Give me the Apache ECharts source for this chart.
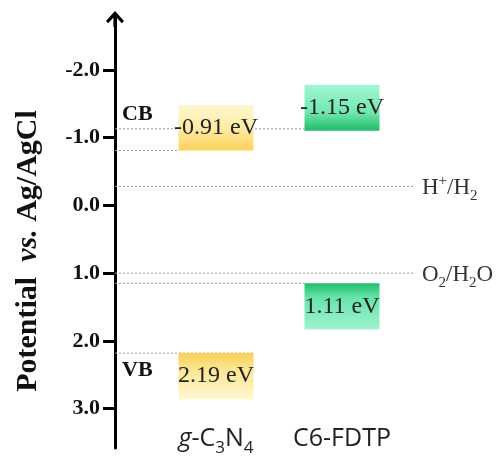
<!DOCTYPE html>
<html><head><meta charset="utf-8">
<script src="https://cdn.jsdelivr.net/npm/echarts@6/dist/echarts.min.js"></script>
<style>html,body{margin:0;padding:0;background:#fff}#c{width:499px;height:457px}</style>
</head><body><div id="c"></div>
<script>
// ---- data ----
const categories = ['g-C3N4', 'C6-FDTP'];
const categoryLabels = ['{i|g}{n|-C}{s|3}{n|N}{s|4}', '{n|C6-FDTP}'];
const cbTop = [-1.48, -1.78];
const cbBottom = [-0.81, -1.10];
const vbTop = [2.18, 1.15];
const vbBottom = [2.86, 1.83];
const cbLabels = ['-0.91 eV', '-1.15 eV'];
const vbLabels = ['2.19 eV', '1.11 eV'];
const guideValues = [-1.13, -0.81, 1.15, 2.18];
const guideTargets = [1, 0, 1, 0];
const guideSides = ['left', 'left', 'left', 'right'];
const redoxValues = [-0.28, 1.00];
const redoxLabels = ['{n|H}{sup|+}{n|/H}{sub|2}', '{n|O}{sub|2}{n|/H}{sub|2}{n|O}'];
const bandNames = ['CB', 'VB'];
const yTicks = [-2, -1, 0, 1, 2, 3];
const yTickLabels = ['-2.0', '-1.0', '0.0', '1.0', '2.0', '3.0'];

// ---- styles ----
const Y_OFFSET = 38;
const BOX_W = 75;
const gradients = {
  cb0: [{offset:0,color:'#fff8cf'},{offset:0.55,color:'#ffe9a0'},{offset:1,color:'#fcd25c'}],
  cb1: [{offset:0,color:'#a2f6d4'},{offset:0.6,color:'#72e7b0'},{offset:1,color:'#1fbb69'}],
  vb0: [{offset:0,color:'#fbcf55'},{offset:0.35,color:'#fde690'},{offset:1,color:'#fff8d0'}],
  vb1: [{offset:0,color:'#1fbd6c'},{offset:0.3,color:'#66e3aa'},{offset:1,color:'#a0f3d0'}]
};
const serif = '"Liberation Serif", "Times New Roman", serif';

const bandData = [], bandKinds = [], bandTexts = [];
categories.forEach((c, i) => {
  bandData.push([i, cbTop[i], cbBottom[i]]); bandKinds.push('cb' + i); bandTexts.push(cbLabels[i]);
  bandData.push([i, vbTop[i], vbBottom[i]]); bandKinds.push('vb' + i); bandTexts.push(vbLabels[i]);
});
const guideData = guideValues.map((v, i) => [guideTargets[i], v]);
const redoxData = redoxValues.map(v => [0, v]);
const bandNameData = [[0, cbTop[0]], [0, vbTop[0]]];

const chart = echarts.init(document.getElementById('c'), null, {renderer: 'canvas'});

function axisX(params) { return params.coordSys.x - Y_OFFSET; }

chart.setOption({
  animation: false,
  backgroundColor: '#fff',
  grid: {left: 153, right: 94, top: 19, bottom: 8, containLabel: false},
  xAxis: {
    type: 'category', data: categories, offset: -9,
    axisLine: {show: false, onZero: false}, axisTick: {show: false}, splitLine: {show: false},
    axisLabel: {
      margin: 0, verticalAlign: 'middle', interval: 0,
      formatter: (v, i) => categoryLabels[i],
      rich: {
        n: {fontFamily: '"Open Sans"', fontSize: 25, color: '#222', lineHeight: 36},
        i: {fontFamily: '"Open Sans"', fontSize: 25, fontStyle: 'italic', color: '#222', lineHeight: 36},
        s: {fontFamily: '"Open Sans"', fontSize: 17, color: '#222', lineHeight: 17, verticalAlign: 'bottom'}
      }
    }
  },
  yAxis: {
    type: 'value', inverse: true, min: -2.75, max: 3.58, offset: Y_OFFSET,
    axisLine: {show: true, onZero: false, lineStyle: {color: '#000', width: 3},
      symbol: ['none', 'path://M9,0L18,10L15.8,12.2L10.6,6.6L10.6,16L7.4,16L7.4,6.6L2.2,12.2L0,10Z'],
      symbolSize: [18, 16]},
    axisTick: {show: true, length: 12, lineStyle: {color: '#000', width: 3}, customValues: yTicks},
    axisLabel: {customValues: yTicks, margin: 15, padding: [7, 0, 0, 0], formatter: v => yTickLabels[yTicks.indexOf(v)],
      fontFamily: serif, fontWeight: 'bold', fontSize: 22, color: '#111'},
    splitLine: {show: false},
    name: '{b|Potential  }{i|vs.}{b| Ag/AgCl}',
    nameLocation: 'middle', nameRotate: 90, nameGap: 72,
    nameTextStyle: {
      padding: [0, 35, 0, 0],
      rich: {
        b: {fontFamily: serif, fontWeight: 'bold', fontSize: 30, color: '#111'},
        i: {fontFamily: serif, fontWeight: 'bold', fontStyle: 'italic', fontSize: 30, color: '#111'}
      }
    }
  },
  series: [
    {
      type: 'custom', name: 'guides', z: 1, data: guideData, clip: false,
      renderItem: (params, api) => {
        const i = params.dataIndex;
        const p = api.coord([api.value(0), api.value(1)]);
        const x2 = p[0] + (guideSides[i] === 'right' ? BOX_W / 2 : -BOX_W / 2);
        return {type: 'line', shape: {x1: axisX(params), y1: p[1], x2: x2, y2: p[1]},
          style: {stroke: '#9a9a9a', lineWidth: 1, lineDash: [2, 2]}};
      }
    },
    {
      type: 'custom', name: 'redox', z: 1, data: redoxData, clip: false,
      renderItem: (params, api) => {
        const i = params.dataIndex;
        const p = api.coord([0, api.value(1)]);
        const xEnd = params.coordSys.x + params.coordSys.width + 8;
        return {type: 'group', children: [
          {type: 'line', shape: {x1: axisX(params), y1: p[1], x2: xEnd, y2: p[1]},
            style: {stroke: '#9a9a9a', lineWidth: 1, lineDash: [2, 2]}},
          {type: 'text', style: {text: redoxLabels[i], x: xEnd + 9, y: p[1] + 2, align: 'left', verticalAlign: 'middle',
            rich: {
              n: {fontFamily: serif, fontSize: 23, fill: '#333', lineHeight: 30},
              sub: {fontFamily: serif, fontSize: 15, fill: '#333', lineHeight: 15, verticalAlign: 'bottom'},
              sup: {fontFamily: serif, fontSize: 15, fill: '#333', lineHeight: 15, verticalAlign: 'top'}
            }}}
        ]};
      }
    },
    {
      type: 'custom', name: 'bands', z: 2, data: bandData, clip: false,
      renderItem: (params, api) => {
        const i = params.dataIndex;
        const cat = api.value(0);
        const p1 = api.coord([cat, api.value(1)]);
        const p2 = api.coord([cat, api.value(2)]);
        return {type: 'group', children: [
          {type: 'rect', shape: {x: p1[0] - BOX_W / 2, y: p1[1], width: BOX_W, height: p2[1] - p1[1]},
            style: {fill: new echarts.graphic.LinearGradient(0, 0, 0, 1, gradients[bandKinds[i]])}},
          {type: 'text', style: {text: bandTexts[i], x: p1[0], y: (p1[1] + p2[1]) / 2, align: 'center', verticalAlign: 'middle',
            font: '24px ' + serif, fill: '#222'}}
        ]};
      }
    },
    {
      type: 'custom', name: 'bandNames', z: 3, data: bandNameData, clip: false,
      renderItem: (params, api) => {
        const i = params.dataIndex;
        const p = api.coord([0, api.value(1)]);
        const y = i === 0 ? p[1] + 9 : p[1] + 17;
        return {type: 'text', style: {text: bandNames[i], x: axisX(params) + 7, y: y, align: 'left', verticalAlign: 'middle',
          font: 'bold 22px ' + serif, fill: '#111'}};
      }
    }
  ]
});
</script></body></html>
